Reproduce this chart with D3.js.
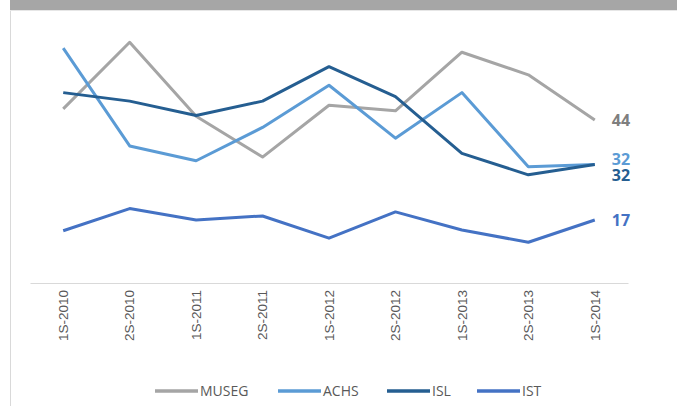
<!DOCTYPE html>
<html lang="en">
<head>
    <meta charset="UTF-8">
    <title>Series chart</title>
    <script src="https://cdn.jsdelivr.net/npm/d3@7"></script>
    <style>
        body {
            margin: 0;
            font-family: "Open Sans", sans-serif;
            background: #fff;
        }
        .axis text {
            font-size: 13.5px;
            fill: #595959;
        }
        .axis path {
            stroke: #d9d9d9;
        }
    </style>
</head>
<body>
    <svg width="677" height="406"></svg>
    <script>
        const categories = ["1S-2010", "2S-2010", "1S-2011", "2S-2011", "1S-2012", "2S-2012", "1S-2013", "2S-2013", "1S-2014"];
        const museg = [47, 65, 45, 34, 48, 46.5, 62.3, 56.2, 44];
        const achs = [63.4, 37, 33, 42, 53.4, 39.1, 51.4, 31.4, 32];
        const isl = [51.4, 49.1, 45.2, 49.1, 58.4, 50.3, 35, 29.2, 32];
        const ist = [14.1, 20.1, 17, 18.1, 12.1, 19.2, 14.3, 11, 17];
        const seriesNames = ["MUSEG", "ACHS", "ISL", "IST"];

        const series = [
            { name: "MUSEG", values: museg, color: "#a5a5a5", labelColor: "#7f7f7f", dy: 0 },
            { name: "ACHS", values: achs, color: "#5b9bd5", labelColor: "#5b9bd5", dy: -5 },
            { name: "ISL", values: isl, color: "#255e91", labelColor: "#255e91", dy: 11 },
            { name: "IST", values: ist, color: "#4472c4", labelColor: "#4472c4", dy: 0 }
        ];

        const width = 677;
        const height = 406;
        const margin = { top: 24, right: 49, bottom: 123, left: 30 };

        const svg = d3.select("svg");

        // frame: grey strip on top, thin border on the left
        svg.append("rect")
            .attr("x", 10).attr("y", 0)
            .attr("width", width - 10).attr("height", 10)
            .attr("fill", "#a6a6a6");
        svg.append("line")
            .attr("x1", 10.5).attr("x2", 10.5)
            .attr("y1", 10).attr("y2", height)
            .attr("stroke", "#d9d9d9");
        svg.append("line")
            .attr("x1", 10).attr("x2", width)
            .attr("y1", 10.5).attr("y2", 10.5)
            .attr("stroke", "#e6e6e6");

        const xScale = d3.scaleBand()
            .domain(categories)
            .range([margin.left, width - margin.right]);

        const yScale = d3.scaleLinear()
            .domain([0, 70])
            .range([height - margin.bottom, height - margin.bottom - 70 * 3.704]);

        const xc = d => xScale(d) + xScale.bandwidth() / 2;

        const xAxis = d3.axisBottom(xScale).tickSize(0).tickPadding(6);

        const gx = svg.append("g")
            .attr("class", "axis")
            .attr("transform", `translate(0,${yScale(0)})`)
            .call(xAxis);
        gx.selectAll("text")
            .attr("transform", "rotate(-90)")
            .attr("text-anchor", "end")
            .attr("x", -7)
            .attr("y", 0)
            .attr("dy", "0.35em");

        const line = d3.line()
            .x((d, i) => xc(categories[i]))
            .y(d => yScale(d));

        svg.selectAll(".series")
            .data(series)
            .enter()
            .append("path")
            .attr("class", "series")
            .attr("d", d => line(d.values))
            .attr("fill", "none")
            .attr("stroke", d => d.color)
            .attr("stroke-width", 3)
            .attr("stroke-linejoin", "round");

        const last = categories.length - 1;
        svg.selectAll(".end-label")
            .data(series)
            .enter()
            .append("text")
            .attr("class", "end-label")
            .attr("x", xc(categories[last]) + 17)
            .attr("y", d => yScale(d.values[last]) + d.dy)
            .attr("dy", "0.35em")
            .attr("fill", d => d.labelColor)
            .style("font-size", "16px")
            .style("font-weight", "bold")
            .text(d => Math.round(d.values[last]));

        // legend
        const legendX = [155, 278, 387, 477];
        const legend = svg.selectAll(".legend")
            .data(series)
            .enter()
            .append("g")
            .attr("class", "legend")
            .attr("transform", (d, i) => `translate(${legendX[i]},391)`);
        legend.append("line")
            .attr("x1", 0).attr("x2", 43)
            .attr("stroke", d => d.color)
            .attr("stroke-width", 3.5);
        legend.append("text")
            .attr("x", 45)
            .attr("dy", "0.35em")
            .attr("fill", "#595959")
            .style("font-size", "14px")
            .text((d, i) => seriesNames[i]);
    </script>
</body>
</html>
